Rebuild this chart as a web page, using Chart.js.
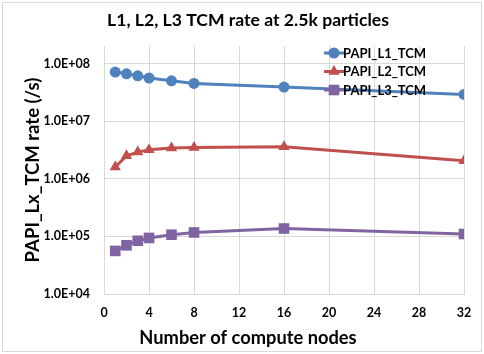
<!DOCTYPE html>
<html>
<head>
<meta charset="utf-8">
<script src="https://cdn.jsdelivr.net/npm/chart.js@4"></script>
<style>
  html, body { margin: 0; padding: 0; background: #fff; }
  #wrap { width: 484px; height: 354px; position: relative; }
</style>
</head>
<body>
<div id="wrap"><canvas id="tcmChart"></canvas></div>
<script>
const nodes = [1, 2, 3, 4, 6, 8, 16, 32];
const l1Rate = [7.1e7, 6.6e7, 6.1e7, 5.6e7, 5.0e7, 4.5e7, 3.9e7, 2.9e7];
const l2Rate = [1.6e6, 2.5e6, 2.9e6, 3.2e6, 3.4e6, 3.5e6, 3.6e6, 2.05e6];
const l3Rate = [5.6e4, 7.0e4, 8.4e4, 9.4e4, 1.07e5, 1.17e5, 1.37e5, 1.1e5];
const seriesNames = ['PAPI_L1_TCM', 'PAPI_L2_TCM', 'PAPI_L3_TCM'];
const yTicks = [1e4, 1e5, 1e6, 1e7, 1e8];

const FONT = 'Lato, "Open Sans", sans-serif';
const GRID = '#d9d9d9';

function toPoints(values) {
  return nodes.map((n, i) => ({ x: n, y: values[i] }));
}

function sciLabel(v) {
  const e = Math.round(Math.log10(v));
  return '1.0E+' + String(e).padStart(2, '0');
}

// frame + white background like the spreadsheet export
const framePlugin = {
  id: 'frame',
  beforeDraw(chart) {
    const { ctx, width, height } = chart;
    ctx.save();
    ctx.fillStyle = '#fff';
    ctx.fillRect(0, 0, width, height);
    ctx.strokeStyle = GRID;
    ctx.lineWidth = 1;
    ctx.strokeRect(2.5, 2.5, width - 5, height - 5);
    ctx.restore();
  }
};

// legend with line + marker, drawn over the plot
const lineLegend = {
  id: 'lineLegend',
  afterDraw(chart) {
    const { ctx } = chart;
    const x0 = 324, y0 = 53, rowH = 18.5;
    ctx.save();
    ctx.font = 'bold 13px ' + FONT;
    ctx.textBaseline = 'middle';
    chart.data.datasets.forEach((ds, i) => {
      const y = y0 + i * rowH;
      ctx.strokeStyle = ds.borderColor;
      ctx.lineWidth = 3;
      ctx.beginPath();
      ctx.moveTo(x0, y);
      ctx.lineTo(x0 + 20, y);
      ctx.stroke();
      ctx.fillStyle = ds.borderColor;
      Chart.helpers.drawPoint(ctx, {
        pointStyle: ds.pointStyle,
        radius: ds.pointRadius,
        borderWidth: 0
      }, x0 + 10, y);
      ctx.fillStyle = '#000';
      ctx.fillText(ds.label, x0 + 19, y + 0.5);
    });
    ctx.restore();
  }
};

function makeSet(label, values, color, style, radius) {
  return {
    label,
    data: toPoints(values),
    borderColor: color,
    backgroundColor: color,
    borderWidth: 3,
    pointStyle: style,
    pointRadius: radius,
    pointHoverRadius: radius,
    pointBorderWidth: 0,
    tension: 0
  };
}

new Chart(document.getElementById('tcmChart'), {
  type: 'line',
  data: {
    datasets: [
      makeSet(seriesNames[0], l1Rate, '#4f81bd', 'circle', 5.5),
      makeSet(seriesNames[1], l2Rate, '#c0504d', 'triangle', 6.5),
      makeSet(seriesNames[2], l3Rate, '#8064a2', 'rect', 7.5)
    ]
  },
  options: {
    responsive: true,
    maintainAspectRatio: false,
    animation: false,
    layout: { padding: { left: 12, right: 0, top: 0, bottom: 0 } },
    plugins: {
      legend: { display: false },
      tooltip: { enabled: false },
      title: {
        display: true,
        text: 'L1, L2, L3 TCM rate at 2.5k particles',
        color: '#000',
        font: { family: FONT, size: 17.6, weight: 'bold' },
        padding: { top: 10, bottom: 15 }
      },
      // x axis title, centred on the whole chart like the original
      subtitle: {
        display: true,
        position: 'bottom',
        text: 'Number of compute nodes',
        color: '#000',
        font: { family: FONT, size: 18.3, weight: 'bold' },
        padding: { top: 3, bottom: 5 }
      }
    },
    scales: {
      x: {
        type: 'linear',
        min: 0,
        max: 32,
        ticks: {
          stepSize: 4,
          color: '#000',
          padding: 11,
          font: { family: FONT, size: 12.5, weight: 'bold' }
        },
        grid: { color: GRID, drawTicks: false },
        border: { color: GRID },
        afterFit(scale) {
          scale.paddingRight = 20;
          scale.height = 30;
        }
      },
      y: {
        type: 'logarithmic',
        min: 1e4,
        max: 2e8,
        afterBuildTicks(scale) {
          scale.ticks = yTicks.map(v => ({ value: v }));
        },
        ticks: {
          color: '#000',
          padding: 14,
          font: { family: FONT, size: 12.5, weight: 'bold' },
          callback: (v) => sciLabel(v)
        },
        grid: { color: GRID, drawTicks: false },
        border: { color: GRID },
        title: {
          display: true,
          text: 'PAPI_Lx_TCM rate (/s)',
          color: '#000',
          font: { family: FONT, size: 18.5, weight: 'bold' },
          padding: { top: 10, bottom: 0 }
        },
        afterFit(scale) {
          scale.width = 92;
        }
      }
    }
  },
  plugins: [framePlugin, lineLegend]
});
</script>
</body>
</html>
